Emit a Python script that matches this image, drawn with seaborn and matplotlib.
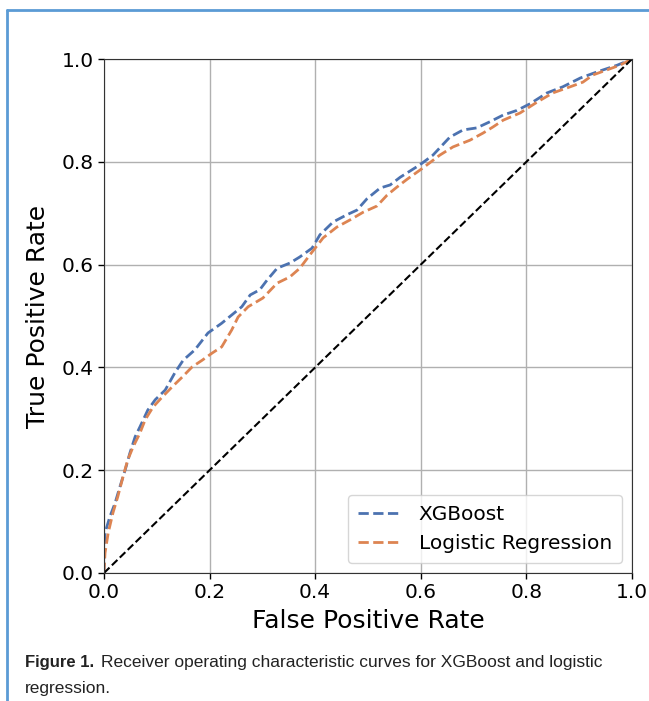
"""ROC curves for XGBoost and logistic regression, journal figure style."""

import matplotlib.pyplot as plt
import pandas as pd
import seaborn as sns
from matplotlib.lines import Line2D

# ROC points
xgb_fpr = [0.0, 0.002, 0.011, 0.021, 0.030, 0.040, 0.049, 0.059, 0.068, 0.083, 0.097,
           0.116, 0.134, 0.150, 0.172, 0.197, 0.223, 0.242, 0.261, 0.277, 0.295, 0.309,
           0.328, 0.352, 0.371, 0.394, 0.409, 0.434, 0.460, 0.479, 0.498, 0.523, 0.542,
           0.561, 0.598, 0.623, 0.655, 0.680, 0.706, 0.731, 0.756, 0.782, 0.807, 0.839,
           0.869, 0.902, 0.934, 0.972, 1.0]
xgb_tpr = [0.0, 0.078, 0.109, 0.136, 0.167, 0.200, 0.233, 0.265, 0.284, 0.317, 0.337,
           0.356, 0.389, 0.414, 0.434, 0.467, 0.486, 0.502, 0.518, 0.541, 0.551, 0.570,
           0.593, 0.603, 0.615, 0.632, 0.658, 0.683, 0.697, 0.706, 0.728, 0.749, 0.755,
           0.770, 0.794, 0.813, 0.848, 0.862, 0.866, 0.878, 0.891, 0.900, 0.913, 0.934,
           0.946, 0.963, 0.975, 0.988, 1.0]

lr_fpr = [0.0, 0.002, 0.008, 0.017, 0.026, 0.036, 0.045, 0.055, 0.068, 0.078, 0.093,
          0.110, 0.129, 0.148, 0.167, 0.186, 0.205, 0.223, 0.242, 0.254, 0.273, 0.301,
          0.328, 0.352, 0.371, 0.390, 0.415, 0.441, 0.466, 0.491, 0.517, 0.536, 0.555,
          0.574, 0.604, 0.636, 0.661, 0.693, 0.718, 0.737, 0.756, 0.788, 0.820, 0.850,
          0.883, 0.907, 0.926, 0.953, 0.977, 1.0]
lr_tpr = [0.0, 0.039, 0.078, 0.117, 0.148, 0.187, 0.220, 0.245, 0.272, 0.298, 0.323,
          0.342, 0.362, 0.381, 0.401, 0.414, 0.428, 0.440, 0.473, 0.498, 0.518, 0.535,
          0.564, 0.576, 0.593, 0.619, 0.652, 0.673, 0.687, 0.702, 0.714, 0.735, 0.751,
          0.766, 0.788, 0.813, 0.829, 0.842, 0.856, 0.868, 0.881, 0.895, 0.916, 0.934,
          0.946, 0.955, 0.969, 0.979, 0.988, 1.0]

chance = [0.0, 1.0]

MODEL_NAMES = ["XGBoost", "Logistic Regression"]
COLORS = ["#4c72b0", "#dd8452"]
CAPTION_LINES = ["Receiver operating characteristic curves for XGBoost and logistic",
                 "regression."]

df = pd.concat([
    pd.DataFrame({"fpr": xgb_fpr, "tpr": xgb_tpr, "model": MODEL_NAMES[0]}),
    pd.DataFrame({"fpr": lr_fpr, "tpr": lr_tpr, "model": MODEL_NAMES[1]}),
], ignore_index=True)

sns.set_style("ticks")
plt.rcParams["font.family"] = ["DejaVu Sans"]
plt.rcParams["text.color"] = "black"
plt.rcParams["xtick.color"] = "black"
plt.rcParams["ytick.color"] = "black"
plt.rcParams["axes.labelcolor"] = "black"

fig = plt.figure(figsize=(6.49, 7.01), dpi=100)
ax = fig.add_axes([0.1602, 0.1826, 0.8136, 0.7332])

sns.lineplot(data=df, x="fpr", y="tpr", hue="model", palette=COLORS,
             sort=False, estimator=None, linestyle="--", linewidth=2, ax=ax)
sns.lineplot(x=chance, y=chance, color="black", linestyle="--", linewidth=1.5,
             ax=ax, legend=False)

ax.set_xlim(0, 1)
ax.set_ylim(0, 1)
ax.set_xticks([0, 0.2, 0.4, 0.6, 0.8, 1.0])
ax.set_yticks([0, 0.2, 0.4, 0.6, 0.8, 1.0])
ax.grid(True, color="#b0b0b0", linewidth=1)
ax.tick_params(labelsize=14.5, length=4, width=1)
for spine in ax.spines.values():
    spine.set_visible(True)
    spine.set_color("#333333")
ax.set_xlabel("False Positive Rate", fontsize=18, labelpad=5)
ax.set_ylabel("True Positive Rate", fontsize=18, labelpad=8)

handles, labels = ax.get_legend_handles_labels()
ax.legend(handles=handles, labels=labels, loc="lower right", fontsize=14.5,
          title=None, framealpha=0.8, borderaxespad=0.5, handlelength=2.2,
          borderpad=0.5)

# caption and frame of the journal figure
cap_font = ["Liberation Sans", "DejaVu Sans"]
fig.text(25 / 649, 1 - 662 / 701, "Figure 1.", fontsize=12, fontweight="bold",
         family=cap_font, va="center", color="#222222")
fig.text(101 / 649, 1 - 662 / 701, CAPTION_LINES[0], fontsize=12.5,
         family=cap_font, va="center", color="#222222")
fig.text(25 / 649, 1 - 688 / 701, CAPTION_LINES[1], fontsize=12.5,
         family=cap_font, va="center", color="#222222")
frame_color = "#5b9bd5"
fig.add_artist(Line2D([7 / 649, 1.0], [1 - 10 / 701, 1 - 10 / 701],
                      color=frame_color, linewidth=2, transform=fig.transFigure))
fig.add_artist(Line2D([7 / 649, 7 / 649], [1 - 10 / 701, 0.0],
                      color=frame_color, linewidth=2, transform=fig.transFigure))

fig.savefig("out.png", dpi=100)
